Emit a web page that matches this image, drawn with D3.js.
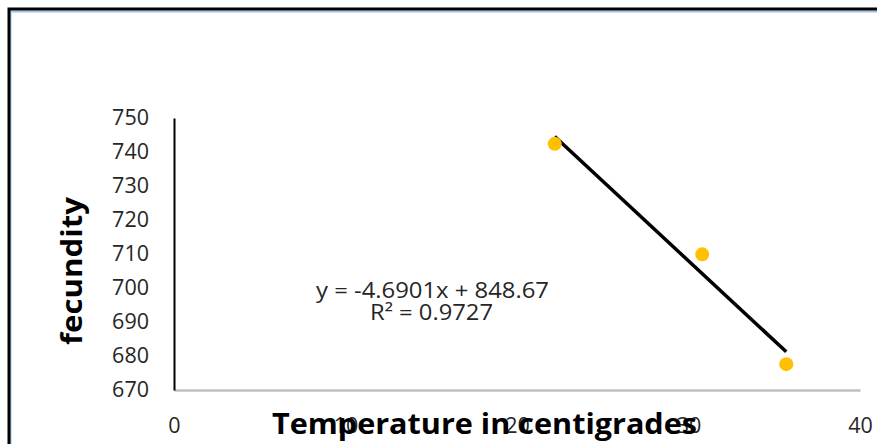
<!DOCTYPE html>
<html><head><meta charset="utf-8">
<script src="https://cdn.jsdelivr.net/npm/d3@7"></script>
<style>body{margin:0;background:#fff}svg{display:block}</style>
</head><body><svg id="c" width="877" height="444"></svg>
<script>
const temperature = [22.2, 30.8, 35.7];
const fecundity = [742.4, 709.9, 677.6];
const trendSlope = -4.6901;
const trendIntercept = 848.67;
const xTicks = [0, 10, 20, 30, 40];
const yTicks = [670, 680, 690, 700, 710, 720, 730, 740, 750];
const xTitle = "Temperature in centigrades";
const yTitle = "fecundity";
const eqText = "y = -4.6901x + 848.67";
const r2Text = "R² = 0.9727";

const svg = d3.select("#c");
const font = "'Open Sans', 'Liberation Sans', sans-serif";
svg.append("rect").attr("width",877).attr("height",444).attr("fill","#fff");
// frame
svg.append("path").attr("d","M10.5,444 V11.5 H877").attr("fill","none").attr("stroke","#9dc3e6").attr("stroke-width",2);
svg.append("path").attr("d","M9,444 V9 H877").attr("fill","none").attr("stroke","#000").attr("stroke-width",3);

const x = d3.scaleLinear().domain([0,40]).range([174,860]);
const y = d3.scaleLinear().domain([670,750]).range([390,118]);

// x axis
const gx = svg.append("g").attr("transform","translate(0,390)")
  .call(d3.axisBottom(x).tickValues(xTicks).tickSize(0).tickPadding(0).tickFormat(d3.format("d")));
gx.select(".domain").attr("stroke","#bfbfbf").attr("stroke-width",2.5);
gx.selectAll("text").attr("font-family",font).attr("font-size",21.5).attr("fill","#262626")
  .attr("dy",null).attr("y",43);

// y axis
const gy = svg.append("g").attr("transform","translate(174,0)")
  .call(d3.axisLeft(y).tickValues(yTicks).tickSize(0).tickPadding(25).tickFormat(d3.format("d")));
gy.select(".domain").attr("stroke","#000").attr("stroke-width",2);
gy.selectAll("text").attr("font-family",font).attr("font-size",21.5).attr("fill","#262626");

// trendline
const xs = d3.extent(temperature);
svg.append("line")
  .attr("x1",x(xs[0])).attr("y1",y(trendSlope*xs[0]+trendIntercept))
  .attr("x2",x(xs[1])).attr("y2",y(trendSlope*xs[1]+trendIntercept))
  .attr("stroke","#000").attr("stroke-width",3.5);

// points
svg.append("g").selectAll("circle").data(temperature).join("circle")
  .attr("cx",d=>x(d)).attr("cy",(d,i)=>y(fecundity[i])).attr("r",7).attr("fill","#ffc000");

// equation
svg.append("text").attr("x",316).attr("y",298)
  .attr("font-family",font).attr("font-size",21).attr("fill","#262626")
  .attr("textLength",233).attr("lengthAdjust","spacingAndGlyphs").text(eqText);
svg.append("text").attr("x",370).attr("y",320)
  .attr("font-family",font).attr("font-size",21).attr("fill","#262626")
  .attr("textLength",123).attr("lengthAdjust","spacingAndGlyphs").text(r2Text);

// titles
svg.append("text").attr("x",272).attr("y",434)
  .attr("font-family",font).attr("font-size",29).attr("font-weight","bold").attr("fill","#000")
  .attr("textLength",425).attr("lengthAdjust","spacingAndGlyphs").text(xTitle);
svg.append("text").attr("transform","translate(82,345) rotate(-90)")
  .attr("font-family",font).attr("font-size",28).attr("font-weight","bold").attr("fill","#000")
  .attr("textLength",148).attr("lengthAdjust","spacingAndGlyphs").text(yTitle);
</script></body></html>
